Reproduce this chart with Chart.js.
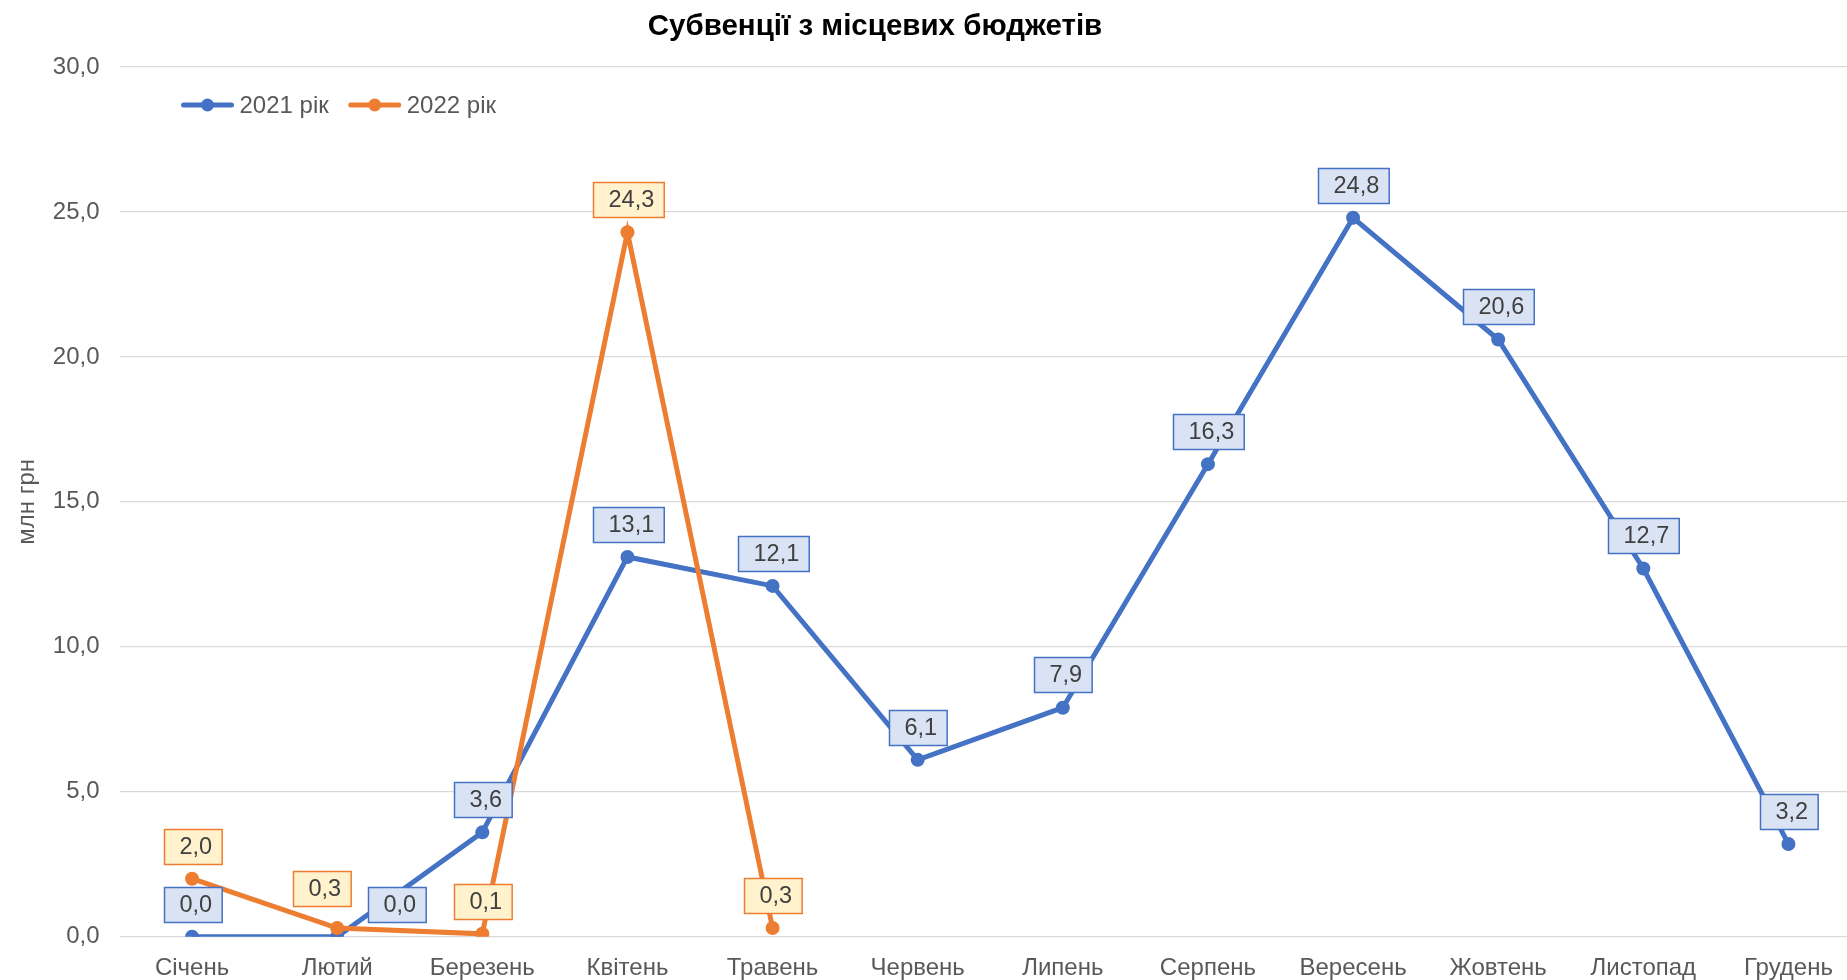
<!DOCTYPE html>
<html>
<head>
<meta charset="utf-8">
<script src="https://cdn.jsdelivr.net/npm/chart.js@4/dist/chart.umd.min.js"></script>
<style>
  body { margin: 0; overflow: hidden; background: #fff; }
  #wrap { position: relative; width: 1868px; height: 980px; }
  #chart { display: block; }
  #title {
    position: absolute; left: 875px; top: 8px; transform: translateX(-50%);
    font: bold 29.5px "Liberation Sans", Arial, sans-serif; color: #000; white-space: nowrap;
  }
</style>
</head>
<body>
<div id="wrap">
  <canvas id="chart" width="1868" height="980"></canvas>
  <div id="title">Субвенції з місцевих бюджетів</div>
</div>
<script>
const months = ['Січень', 'Лютий', 'Березень', 'Квітень', 'Травень', 'Червень',
  'Липень', 'Серпень', 'Вересень', 'Жовтень', 'Листопад', 'Грудень'];
const seriesNames = ['2021 рік', '2022 рік'];
const values2021 = [0.0, 0.0, 3.6, 13.1, 12.1, 6.1, 7.9, 16.3, 24.8, 20.6, 12.7, 3.2];
const values2022 = [2.0, 0.3, 0.1, 24.3, 0.3, null, null, null, null, null, null, null];
const yMin = 0;
const yMax = 30;
const yStep = 5;

const FONT = '"Liberation Sans", Arial, sans-serif';
const blue = '#4472C4';
const orange = '#ED7D31';
const labelFill = ['#DAE3F3', '#FFF2CC'];

// a couple of labels were dragged by hand in the original
const labelNudge = { '0:1': [59, 0], '1:1': [-16, -7] };

function fmt(v) {
  return v.toFixed(1).replace('.', ',');
}

const dataLabels = {
  id: 'dataLabels',
  afterDatasetsDraw(chart) {
    const ctx = chart.ctx;
    ctx.save();
    ctx.font = '23.5px ' + FONT;
    ctx.textBaseline = 'middle';
    ctx.lineWidth = 1.5;
    chart.data.datasets.forEach((ds, di) => {
      const meta = chart.getDatasetMeta(di);
      meta.data.forEach((pt, i) => {
        const v = ds.data[i];
        if (v === null || v === undefined) return;
        const text = fmt(v);
        const tw = ctx.measureText(text).width;
        const w = tw + 25;
        const h = 35;
        const nudge = labelNudge[di + ':' + i] || [0, 0];
        const cx = pt.x + 0.5 + nudge[0];
        const cy = pt.y - 32.7 + nudge[1];
        const left = Math.round(cx - w / 2) + 0.5;
        const top = Math.round(cy - h / 2) + 0.5;
        ctx.fillStyle = labelFill[di];
        ctx.fillRect(left, top, w, h);
        ctx.strokeStyle = ds.borderColor;
        ctx.strokeRect(left, top, w, h);
        ctx.fillStyle = '#404040';
        ctx.fillText(text, left + 15, top + h / 2 + 1);
      });
    });
    ctx.restore();
  }
};

const lineLegend = {
  id: 'lineLegend',
  afterDraw(chart) {
    const ctx = chart.ctx;
    const area = chart.chartArea;
    let x = area.left + 64;
    const y = area.top + 38;
    ctx.save();
    ctx.font = '24px ' + FONT;
    ctx.textBaseline = 'middle';
    chart.data.datasets.forEach(ds => {
      ctx.strokeStyle = ds.borderColor;
      ctx.lineWidth = 5;
      ctx.lineCap = 'round';
      ctx.beginPath();
      ctx.moveTo(x, y);
      ctx.lineTo(x + 48, y);
      ctx.stroke();
      ctx.fillStyle = ds.borderColor;
      ctx.beginPath();
      ctx.arc(x + 24, y, 6.5, 0, Math.PI * 2);
      ctx.fill();
      ctx.fillStyle = '#595959';
      ctx.fillText(ds.label, x + 56, y + 1);
      x += 56 + ctx.measureText(ds.label).width + 22;
    });
    ctx.restore();
  }
};

new Chart(document.getElementById('chart').getContext('2d'), {
  type: 'line',
  data: {
    labels: months,
    datasets: [
      {
        label: seriesNames[0],
        data: values2021,
        borderColor: blue,
        backgroundColor: blue,
        borderWidth: 5,
        pointRadius: 7,
        pointHoverRadius: 7,
        pointBorderWidth: 0,
        order: 1
      },
      {
        label: seriesNames[1],
        data: values2022,
        borderColor: orange,
        backgroundColor: orange,
        borderWidth: 5,
        pointRadius: 7,
        pointHoverRadius: 7,
        pointBorderWidth: 0,
        spanGaps: false,
        order: 0
      }
    ]
  },
  options: {
    responsive: false,
    animation: false,
    devicePixelRatio: 1,
    layout: { padding: { top: 67, right: 2.5, left: 0, bottom: 0 } },
    plugins: {
      legend: { display: false },
      tooltip: { enabled: false },
      title: { display: false }
    },
    scales: {
      x: {
        offset: true,
        grid: { display: false },
        border: { display: false },
        ticks: {
          color: '#595959',
          font: { family: FONT, size: 24 },
          padding: 9,
          maxRotation: 0,
          autoSkip: false
        },
        afterFit(scale) { scale.height = 43.3; }
      },
      y: {
        min: yMin,
        max: yMax,
        grid: { color: '#D9D9D9', lineWidth: 1.3, drawTicks: false },
        border: { display: false },
        ticks: {
          stepSize: yStep,
          color: '#595959',
          font: { family: FONT, size: 24 },
          padding: 20,
          callback: v => fmt(v)
        },
        title: {
          display: true,
          text: 'млн грн',
          color: '#595959',
          font: { family: FONT, size: 24 },
          padding: { top: 13, bottom: 0 }
        },
        afterFit(scale) { scale.width = 119.5; }
      }
    }
  },
  plugins: [dataLabels, lineLegend]
});
</script>
</body>
</html>
